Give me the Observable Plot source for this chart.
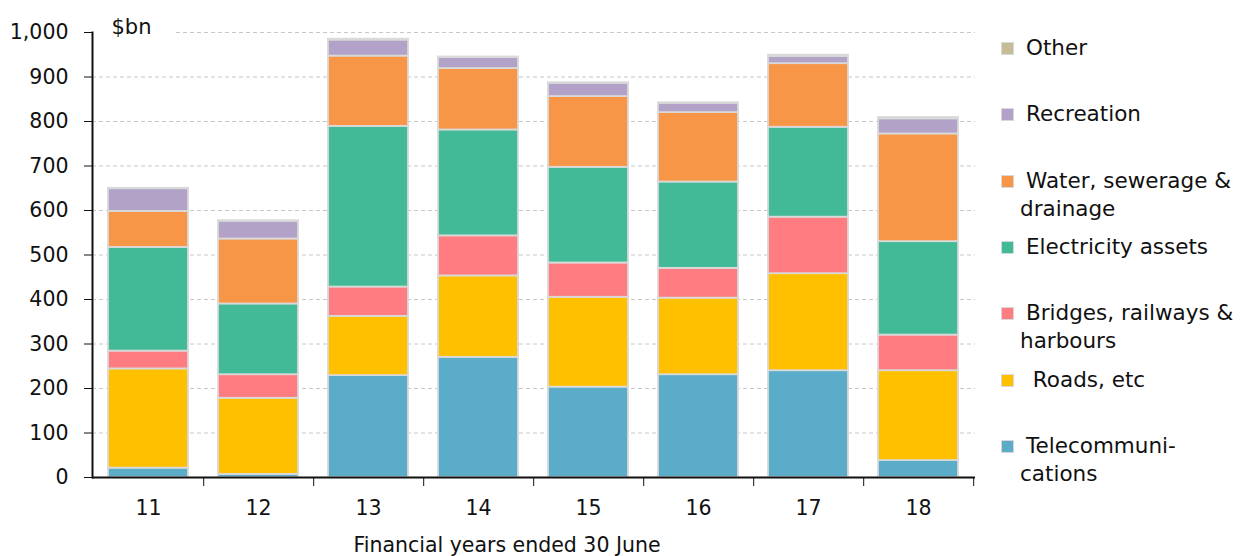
<!DOCTYPE html>
<html>
<head>
<meta charset="utf-8">
<script src="https://cdn.jsdelivr.net/npm/d3@7"></script>
<script src="https://cdn.jsdelivr.net/npm/@observablehq/plot@0.6"></script>
<style>
  html, body { margin: 0; padding: 0; background: #fff; }
  #wrap { position: relative; width: 1252px; height: 556px; font-family: "DejaVu Sans", sans-serif; }
  #legend { position: absolute; left: 1000px; top: 0; width: 252px; height: 556px; }
  .item { position: absolute; left: 0; font-size: 21.5px; line-height: 28px; color: #111; }
  .sw { position: absolute; left: 1px; top: 8px; width: 11px; height: 11px; border: 1.5px solid #d9d9d9; }
  .lbl { position: absolute; left: 26px; top: 0; white-space: pre; }
  .lbl2 { position: absolute; left: 20px; top: 28px; white-space: nowrap; }
</style>
</head>
<body>
<div id="wrap"><div id="chart"></div><div id="legend"></div></div>
<script>
const years = ["11", "12", "13", "14", "15", "16", "17", "18"];
const seriesNames = ["Telecommunications", "Roads, etc", "Bridges, railways & harbours", "Electricity assets", "Water, sewerage & drainage", "Recreation", "Other"];
const seriesColors = ["#5BACC8", "#FFC000", "#FF7C80", "#43BA97", "#F79646", "#B3A2C7", "#C4BD97"];
const telecom     = [21, 7, 229, 270, 203, 231, 240, 38];
const roads       = [223, 171, 133, 183, 202, 172, 218, 202];
const bridges     = [40, 53, 66, 90, 77, 67, 127, 80];
const electricity = [233, 159, 361, 238, 215, 194, 202, 210];
const water       = [81, 146, 158, 138, 159, 156, 143, 242];
const recreation  = [51, 40, 36, 25, 30, 21, 16, 34];
const other       = [1, 1, 2, 1, 1, 1, 3, 3];
const yTicks = [0, 100, 200, 300, 400, 500, 600, 700, 800, 900, 1000];
const legendLines = [
  ["Other"],
  ["Recreation"],
  ["Water, sewerage &", "drainage"],
  ["Electricity assets"],
  ["Bridges, railways &", "harbours"],
  [" Roads, etc"],
  ["Telecommuni-", "cations"]
];
const legendOrder = [6, 5, 4, 3, 2, 1, 0];

const seriesValues = [telecom, roads, bridges, electricity, water, recreation, other];
const rows = [];
seriesNames.forEach((s, si) => years.forEach((y, yi) => rows.push({year: y, series: s, value: seriesValues[si][yi]})));

const W = 1252, H = 556, mL = 92, mR = 277, mT = 32, mB = 79;
const step = (W - mL - mR) / years.length;
const font = "DejaVu Sans, sans-serif";

const chart = Plot.plot({
  width: W, height: H,
  marginLeft: mL, marginRight: mR, marginTop: mT, marginBottom: mB,
  style: {fontFamily: font, fontSize: "20.5px", color: "#111", background: "transparent"},
  x: {domain: years, paddingInner: 0.27, paddingOuter: 0.135, label: null},
  y: {domain: [0, 1000], label: null},
  color: {domain: seriesNames, range: seriesColors},
  marks: [
    Plot.gridY(yTicks.filter(d => d > 0), {stroke: "#c8c8c8", strokeOpacity: 1, strokeDasharray: "4,3"}),
    Plot.text(["$bn"], {frameAnchor: "top-left", dx: 19, dy: -5, textAnchor: "start", fontSize: 21, fill: "#111", stroke: "white", strokeWidth: 50, lineAnchor: "middle"}),
    Plot.barY(rows, {x: "year", y: "value", fill: "series", order: seriesNames, stroke: "#d9d9d9", strokeWidth: 1.8}),
    Plot.axisY({ticks: yTicks, tickFormat: d3.format(","), tickSize: 8, tickPadding: 16, fontSize: 20.5, stroke: "#111"}),
    Plot.axisX({tickSize: 0, tickPadding: 23, fontSize: 20.5, label: null}),
    Plot.axisX({tickSize: 9, tickFormat: () => "", dx: step / 2, stroke: "#111"}),
    Plot.ruleY([0], {stroke: "#111", strokeWidth: 2}),
    Plot.frame({anchor: "left", stroke: "#111", strokeWidth: 2}),
    Plot.text(["Financial years ended 30 June"], {frameAnchor: "bottom", dx: -27, dy: 74, fontSize: 20.5, fill: "#111"})
  ]
});
document.getElementById("chart").appendChild(chart);

const legend = document.getElementById("legend");
legendOrder.forEach((si, i) => {
  const item = document.createElement("div");
  item.className = "item";
  item.style.top = (34 + i * 66.3) + "px";
  const sw = document.createElement("div");
  sw.className = "sw";
  sw.style.background = seriesColors[si];
  item.appendChild(sw);
  const lines = legendLines[i];
  const l1 = document.createElement("div");
  l1.className = "lbl";
  l1.textContent = lines[0];
  item.appendChild(l1);
  if (lines[1]) {
    const l2 = document.createElement("div");
    l2.className = "lbl2";
    l2.textContent = lines[1];
    item.appendChild(l2);
  }
  legend.appendChild(item);
});
</script>
</body>
</html>
